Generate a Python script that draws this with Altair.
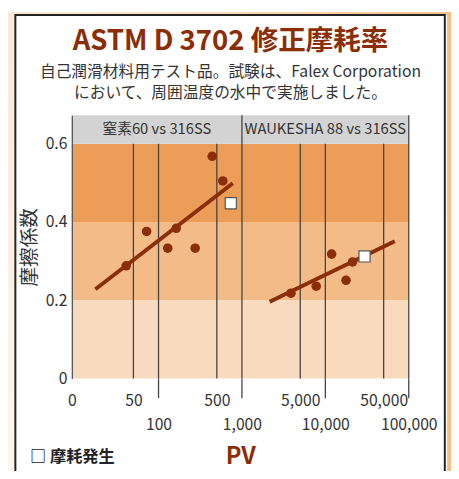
import altair as alt
import numpy as np
import pandas as pd

# ---------------- data ----------------
panels = ["窒素60 vs 316SS", "WAUKESHA 88 vs 316SS"]
panel_lo = [9.14, 1000]
panel_hi = [1000, 100000]

n60_pv = [41, 72, 129, 163, 275, 440, 590]
n60_cof = [0.288, 0.376, 0.333, 0.384, 0.333, 0.568, 0.505]
w88_pv = [3870, 7770, 11900, 17700, 21200]
w88_cof = [0.218, 0.236, 0.318, 0.251, 0.298]

wear_label = "摩耗発生"
wear_pv = [735, 29500]
wear_cof = [0.448, 0.312]

trend_panel = [panels[0], panels[0], panels[1], panels[1]]
trend_pv = [17.5, 777, 2150, 67900]
trend_cof = [0.228, 0.499, 0.196, 0.351]

band_lo = [0.0, 0.2, 0.4]
band_hi = [0.2, 0.4, 0.6]
band_names = ["low", "mid", "high"]
band_colors = ["#F8DABE", "#F3BB87", "#EC9E58"]

x_ticks = [9.14, 50, 100, 500, 1000, 5000, 10000, 50000, 100000]
x_ticks_row2 = [100, 1000, 10000, 100000]
y_ticks = [0, 0.2, 0.4, 0.6]
grid_pv = [50, 100, 500, 1000, 5000, 10000, 50000, 100000]

X_MIN, X_MAX = 9.14, 100000
Y_MAX = 0.673
HEADER_LO = 0.6

title_text = "ASTM D 3702 修正摩耗率"
subtitle_lines = ["自己潤滑材料用テスト品。試験は、Falex Corporation",
                  "において、周囲温度の水中で実施しました。"]

# ---------------- tables ----------------
pts = pd.DataFrame({"pv": n60_pv + w88_pv, "cof": n60_cof + w88_cof})
wear = pd.DataFrame({"pv": wear_pv, "cof": wear_cof, "kind": [wear_label] * len(wear_pv)})
trend = pd.DataFrame({"pv": trend_pv, "cof": trend_cof, "panel": trend_panel})
bands = pd.DataFrame({"x0": X_MIN, "x1": X_MAX, "lo": band_lo, "hi": band_hi, "band": band_names})
header = pd.DataFrame({"x0": [X_MIN], "x1": [X_MAX], "lo": [HEADER_LO], "hi": [Y_MAX]})
hdr_text = pd.DataFrame({
    "pv": np.sqrt(np.array(panel_lo) * np.array(panel_hi)),
    "cof": (HEADER_LO + Y_MAX) / 2,
    "label": panels,
})
grid = pd.DataFrame({
    "pv": grid_pv,
    "lo": 0.0,
    "top": [Y_MAX if v in panel_hi else HEADER_LO for v in grid_pv],
})
ext = pd.DataFrame({"pv": x_ticks_row2})
dummy = pd.DataFrame({"a": [0]})

FONT = "Noto Sans CJK JP"
BROWN = "#8B2E08"
W, H = 343, 268
TOP_PAD = 105

row2_test = " || ".join(f"datum.value == {v}" for v in x_ticks_row2)

xscale = alt.Scale(type="log", domain=[X_MIN, X_MAX], nice=False)
yscale = alt.Scale(domain=[0, Y_MAX], nice=False, zero=False)

xaxis = alt.Axis(
    values=x_ticks,
    labelExpr="datum.value < 20 ? '0' : format(datum.value, ',')",
    ticks=False, domain=False, grid=False, zindex=2,
    labelPadding={"condition": {"test": row2_test, "value": 38.5}, "value": 15},
    labelFont=FONT, labelFontSize=16, labelColor="#333",
    labelOverlap=False, labelFlush=False, labelBound=False,
    title="PV", titleFont=FONT, titleFontSize=24, titleFontWeight="bold",
    titleColor=BROWN, titlePadding=13.5,
)
yaxis = alt.Axis(
    values=y_ticks,
    labelExpr="datum.value == 0 ? '0' : format(datum.value, '.1f')",
    ticks=False, domain=True, domainColor="#555", domainWidth=1.3, grid=False, zindex=2,
    labelPadding=5, labelFont=FONT, labelFontSize=16, labelColor="#333",
    title="摩擦係数", titleFont=FONT, titleFontSize=20, titleFontWeight="normal",
    titleColor="#333", titlePadding=6,
)


def X(field="pv"):
    return alt.X(f"{field}:Q", scale=xscale, axis=xaxis)


def Y(field="cof"):
    return alt.Y(f"{field}:Q", scale=yscale, axis=yaxis)


gradient = alt.LinearGradient(
    gradient="linear", x1=0, y1=1, x2=1, y2=0,
    stops=[alt.GradientStop(color="#FDF5EE", offset=0),
           alt.GradientStop(color="#FBE6D0", offset=0.6),
           alt.GradientStop(color="#F7C38A", offset=1)],
)

bg = alt.Chart(dummy).mark_rect(fill=gradient).encode(
    x=alt.value(-66), x2=alt.value(392), y=alt.value(-TOP_PAD), y2=alt.value(370))
strip = alt.Chart(dummy).mark_rect(fill="#F6BE84").encode(
    x=alt.value(382), x2=alt.value(392), y=alt.value(-TOP_PAD), y2=alt.value(370))
frame_fill = alt.Chart(dummy).mark_rect(fill="white").encode(
    x=alt.value(-58), x2=alt.value(382), y=alt.value(-102), y2=alt.value(400))
frame_line = alt.Chart(dummy).mark_rect(fillOpacity=0, stroke="#222", strokeWidth=2).encode(
    x=alt.value(-57.5), x2=alt.value(379.7), y=alt.value(-102), y2=alt.value(400))

band_layer = alt.Chart(bands).mark_rect().encode(
    x=X("x0"), x2="x1:Q", y=Y("lo"), y2="hi:Q",
    fill=alt.Fill("band:N", scale=alt.Scale(domain=band_names, range=band_colors), legend=None),
)
header_layer = alt.Chart(header).mark_rect(fill="#D3D3D3").encode(
    x=X("x0"), x2="x1:Q", y=Y("lo"), y2="hi:Q")
grid_layer = alt.Chart(grid).mark_rule(color="#444", strokeWidth=1.3).encode(
    x=X("pv"), y=Y("lo"), y2="top:Q")
ext_layer = alt.Chart(ext).mark_rule(color="#444", strokeWidth=1.3).encode(
    x=X("pv"), y=alt.value(H), y2=alt.value(H + 20))
hdr_text_layer = alt.Chart(hdr_text).mark_text(
    font=FONT, fontSize=15, color="#333", baseline="middle", align="center").encode(
    x=X("pv"), y=Y("cof"), text="label:N")
trend_layer = alt.Chart(trend).mark_line(color=BROWN, strokeWidth=4, strokeCap="butt").encode(
    x=X("pv"), y=Y("cof"), detail="panel:N")
pts_layer = alt.Chart(pts).mark_circle(size=95, color=BROWN, opacity=1).encode(
    x=X("pv"), y=Y("cof"))
wear_layer = alt.Chart(wear).mark_point(
    shape="square", filled=True, fill="white", stroke="#555", strokeWidth=1.2,
    size=128, opacity=1).encode(
    x=X("pv"), y=Y("cof"),
    shape=alt.Shape("kind:N", scale=alt.Scale(domain=[wear_label], range=["square"]),
                    legend=alt.Legend(orient="none", legendX=-59, legendY=340, title=None,
                                      labelExpr="'□ ' + datum.label",
                                      labelFont=FONT, labelFontSize=16.5, labelFontWeight="bold",
                                      labelColor="#222", symbolOpacity=0, symbolSize=1,
                                      labelOffset=0, padding=0, zindex=2)),
)

chart = alt.layer(
    bg, strip, frame_fill, frame_line,
    band_layer, header_layer, grid_layer, ext_layer, hdr_text_layer,
    trend_layer, pts_layer, wear_layer,
).properties(
    width=W, height=H,
    padding={"left": 65, "top": TOP_PAD, "right": 43, "bottom": 90},
    autosize=alt.AutoSizeParams(type="none"),
    title=alt.Title(
        text=title_text, subtitle=subtitle_lines, anchor="middle", frame="group",
        dx=-10, offset=14.5 - TOP_PAD, font=FONT, fontSize=28, fontWeight="bold", color=BROWN,
        subtitleFont=FONT, subtitleFontSize=16, subtitleColor="#333",
        subtitleLineHeight=21, subtitlePadding=9, zindex=2,
    ),
).configure_view(stroke=None)

chart.save("out.html", embed_options={"renderer": "svg", "actions": False})
